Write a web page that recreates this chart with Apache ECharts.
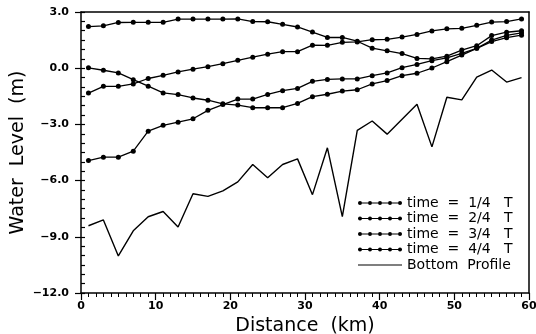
<!DOCTYPE html>
<html>
<head>
<meta charset="utf-8">
<script src="https://cdn.jsdelivr.net/npm/echarts@6/dist/echarts.min.js"></script>
<style>
  html, body { margin: 0; padding: 0; background: #fff; }
  #chart { width: 536px; height: 334px; }
</style>
</head>
<body>
<div id="chart"></div>
<script>
// distance along the channel (km), one point every 2 km
const distance = [1, 3, 5, 7, 9, 11, 13, 15, 17, 19, 21, 23, 25, 27, 29,
  31, 33, 35, 37, 39, 41, 43, 45, 47, 49, 51, 53, 55, 57, 59];

const time1 = [2.22, 2.26, 2.44, 2.45, 2.45, 2.45, 2.62, 2.62, 2.62, 2.62, 2.63, 2.49, 2.48, 2.34, 2.20,
  1.93, 1.64, 1.64, 1.44, 1.07, 0.93, 0.78, 0.52, 0.50, 0.64, 0.97, 1.20, 1.74, 1.92, 2.00];
const time2 = [0.02, -0.11, -0.25, -0.61, -0.96, -1.32, -1.41, -1.59, -1.71, -1.90, -1.97, -2.11, -2.11, -2.11, -1.88,
  -1.52, -1.39, -1.22, -1.15, -0.84, -0.66, -0.40, -0.27, 0.01, 0.35, 0.70, 1.06, 1.42, 1.63, 1.76];
const time3 = [-1.33, -0.97, -0.97, -0.84, -0.55, -0.38, -0.20, -0.05, 0.08, 0.24, 0.42, 0.59, 0.75, 0.88, 0.88,
  1.23, 1.22, 1.38, 1.40, 1.52, 1.54, 1.66, 1.80, 1.99, 2.10, 2.13, 2.29, 2.46, 2.49, 2.63];
const time4 = [-4.93, -4.75, -4.75, -4.43, -3.36, -3.05, -2.88, -2.70, -2.25, -1.94, -1.65, -1.65, -1.40, -1.20, -1.08,
  -0.70, -0.60, -0.57, -0.57, -0.40, -0.25, 0.03, 0.20, 0.40, 0.55, 0.79, 1.06, 1.50, 1.75, 1.88];
const bottom = [-8.41, -8.10, -10.02, -8.68, -7.93, -7.65, -8.48, -6.70, -6.84, -6.55, -6.07, -5.14, -5.85, -5.14, -4.84,
  -6.75, -4.25, -7.92, -3.32, -2.82, -3.52, -2.72, -1.93, -4.20, -1.55, -1.69, -0.48, -0.10, -0.74, -0.50];

const seriesNames = ["time  =  1/4   T", "time  =  2/4   T", "time  =  3/4   T", "time  =  4/4   T", "Bottom  Profile"];
const xTicks = [0, 10, 20, 30, 40, 50, 60];
const yTicks = [-12, -9, -6, -3, 0, 3];

const font = "DejaVu Sans";
const ink = "#000";
const dotIcon = "path://M0 2.5H44V3.5H0Z" +
  "M0 3a2 2 0 1 1 4 0a2 2 0 1 1 -4 0Z" +
  "M10 3a2 2 0 1 1 4 0a2 2 0 1 1 -4 0Z" +
  "M20 3a2 2 0 1 1 4 0a2 2 0 1 1 -4 0Z" +
  "M30 3a2 2 0 1 1 4 0a2 2 0 1 1 -4 0Z" +
  "M40 3a2 2 0 1 1 4 0a2 2 0 1 1 -4 0Z";
const plainIcon = "path://M0 2.5H44V3.5H0Z";

function pairs(values) {
  return distance.map((d, i) => [d, values[i]]);
}

function timeSeries(name, values) {
  return {
    name: name,
    type: "line",
    data: pairs(values),
    symbol: "circle",
    symbolSize: 5,
    itemStyle: { color: ink },
    lineStyle: { color: ink, width: 1.3 },
    animation: false,
    z: 3,
  };
}

// plain edge of the frame (top / right)
function frameAxis(kind, position) {
  const range = kind === "x"
    ? { min: xTicks[0], max: xTicks[xTicks.length - 1] }
    : { min: yTicks[0], max: yTicks[yTicks.length - 1] };
  return Object.assign({ type: "value", position: position }, range, {
    axisLine: { show: true, onZero: false, lineStyle: { color: ink, width: 1.5 } },
    axisTick: { show: false },
    axisLabel: { show: false },
    splitLine: { show: false },
  });
}

// water level ticks drawn as split lines of a narrow strip grid next to the axis
function tickStripY(gridIndex, interval) {
  return {
    type: "value",
    gridIndex: gridIndex,
    min: yTicks[0],
    max: yTicks[yTicks.length - 1],
    interval: interval,
    axisLine: { show: false, onZero: false },
    axisTick: { show: false },
    axisLabel: { show: false },
    splitLine: { show: true, lineStyle: { color: ink, width: 1.2, type: "solid" } },
  };
}

function tickStripX(gridIndex) {
  return { type: "value", gridIndex: gridIndex, min: 0, max: 1, show: false };
}

const chart = echarts.init(document.getElementById("chart"), null, { renderer: "canvas" });

chart.setOption({
  backgroundColor: "#fff",
  grid: [
    { left: 81, right: 7, top: 12, bottom: 41, outerBoundsMode: "none" },
    { left: 81, width: 4, top: 12, bottom: 41, outerBoundsMode: "none" },
    { left: 75, width: 6, top: 12, bottom: 41, outerBoundsMode: "none" },
  ],
  legend: {
    orient: "vertical",
    left: 353,
    top: 191,
    itemWidth: 44,
    itemHeight: 6,
    itemGap: 1.5,
    itemTextGap: 10,
    textStyle: { fontFamily: font, fontSize: 14, lineHeight: 14, color: ink },
    data: seriesNames.map((n, i) => ({ name: n, icon: i < 4 ? dotIcon : plainIcon })),
  },
  xAxis: [
    {
      type: "value",
      position: "bottom",
      min: xTicks[0],
      max: xTicks[xTicks.length - 1],
      interval: 10,
      name: "Distance  (km)",
      nameLocation: "middle",
      nameGap: 12,
      nameTextStyle: { fontFamily: font, fontSize: 19, color: ink },
      axisLine: { show: true, onZero: false, lineStyle: { color: ink, width: 1.5 } },
      axisTick: { show: true, length: 7, lineStyle: { color: ink, width: 1.2 } },
      minorTick: { show: true, splitNumber: 10, length: 4, lineStyle: { color: ink, width: 1 } },
      axisLabel: { margin: 8, fontFamily: font, fontSize: 11, fontWeight: "bold", color: ink },
      splitLine: { show: false },
    },
    frameAxis("x", "top"),
    tickStripX(1),
    tickStripX(2),
  ],
  yAxis: [
    {
      type: "value",
      position: "left",
      min: yTicks[0],
      max: yTicks[yTicks.length - 1],
      interval: 3,
      name: "Water  Level  (m)",
      nameLocation: "middle",
      nameGap: 53,
      nameMoveOverlap: false,
      nameRotate: 90,
      nameTextStyle: { fontFamily: font, fontSize: 19, color: ink },
      axisLine: { show: true, onZero: false, lineStyle: { color: ink, width: 1.5 } },
      axisTick: { show: false },
      axisLabel: {
        margin: 12, fontFamily: font, fontSize: 11, fontWeight: "bold", color: ink,
        formatter: (v) => v.toFixed(1).replace("-", "\u2212"),
      },
      splitLine: { show: false },
    },
    frameAxis("y", "right"),
    tickStripY(1, 0.5),
    tickStripY(2, 3),
  ],
  series: [
    timeSeries(seriesNames[0], time1),
    timeSeries(seriesNames[1], time2),
    timeSeries(seriesNames[2], time3),
    timeSeries(seriesNames[3], time4),
    {
      name: seriesNames[4],
      type: "line",
      data: pairs(bottom),
      symbol: "none",
      itemStyle: { color: ink },
      lineStyle: { color: ink, width: 1.4 },
      animation: false,
      z: 2,
    },
  ],
});
</script>
</body>
</html>
